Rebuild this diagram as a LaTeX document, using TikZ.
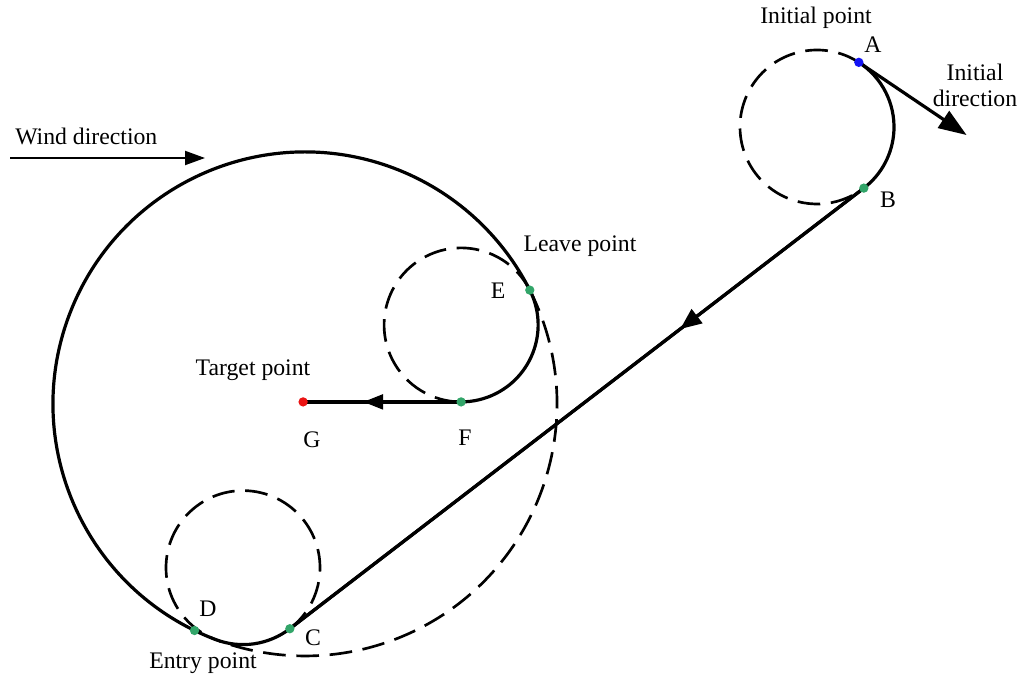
\documentclass[tikz,border=0pt]{standalone}
\usepackage{fontspec}
\setmainfont{Liberation Serif}
\usetikzlibrary{calc,arrows.meta,decorations.markings}
\definecolor{dotgreen}{RGB}{50,165,105}
\definecolor{dotblue}{RGB}{20,20,245}
\definecolor{dotred}{RGB}{235,20,20}
\begin{document}
\begin{tikzpicture}[x=0.75pt,y=0.75pt,
  solidpath/.style={line width=2.4pt},
  dashcirc/.style={line width=2pt, dash pattern=on 17pt off 8pt},
  lbl/.style={font=\fontsize{17.8}{19.5}\selectfont, inner sep=0pt},
  dotnode/.style={circle, fill=#1, inner sep=0pt, minimum size=7pt},
  midarrow/.style 2 args={postaction={decorate},
    decoration={markings, mark=at position #1 with {\arrow{#2}}}}]
\useasboundingbox (0,0) rectangle (1020,679);

% circle centres
\coordinate (Ob) at (305,275);
\coordinate (O1) at (817,552);
\coordinate (O2) at (461.1,354.1);
\coordinate (O3) at (243,111.4);

% path points
\coordinate (A) at ($(O1)+(57.1:77)$);
\coordinate (B) at ($(O1)+(-52.54:77)$);
\coordinate (C) at ($(O3)+(-52.54:77)$);
\coordinate (D) at ($(Ob)+(244:252)$);
\coordinate (E) at ($(O2)+(26.86:77)$);
\coordinate (F) at ($(O2)+(-90:77)$);
\coordinate (G) at ($(F)+(-158,0)$);
\coordinate (Adir) at ($(A)+(-34:130)$);
\coordinate (W1) at (10,521);
\coordinate (W2) at (205,521);

% dashed parts of the circles
\draw[dashcirc] (A) arc[start angle=57.1, end angle=307.46, radius=77];
\draw[dashcirc] (C) arc[start angle=-52.54, end angle=249.25, radius=77];
\draw[dashcirc] (E) arc[start angle=26.86, end angle=270, radius=77];
\draw[dashcirc] (E) arc[start angle=26.86, end angle=-110.75, radius=252];

% solid flight path
\draw[solidpath] (A) arc[start angle=57.1, end angle=-52.54, radius=77]
  -- (C) arc[start angle=-52.54, end angle=-110.75, radius=77]
  arc[start angle=249.25, end angle=26.86, radius=252]
  arc[start angle=26.86, end angle=-90, radius=77] -- (G);
\draw[solidpath, midarrow={0.32}{Triangle[length=16pt,width=13pt]}] (B) -- (C);
\draw[solidpath, midarrow={0.62}{Triangle[length=15pt,width=11pt]}] (F) -- (G);

% initial direction and wind arrows
\draw[solidpath, -{Triangle[length=21pt,width=15pt]}] (A) -- (Adir);
\draw[line width=1.5pt, -{Triangle[length=15pt,width=10.5pt]}] (W1) -- (W2);

% points
\node[dotnode=dotblue] (pA) at (A) {};
\node[dotnode=dotgreen] (pB) at (B) {};
\node[dotnode=dotgreen] (pC) at (C) {};
\node[dotnode=dotgreen] (pD) at (D) {};
\node[dotnode=dotgreen] (pE) at (E) {};
\node[dotnode=dotgreen] (pF) at (F) {};
\node[dotnode=dotred] (pG) at (G) {};

% labels
\node[lbl] (tinit) at (816,661) {Initial point};
\node[lbl] (lA) at (873,634) {A};
\node[lbl, align=center] (tdir) at (975,594) {Initial\\direction};
\node[lbl] (lB) at (888,479) {B};
\node[lbl, anchor=west] (twind) at (15,543) {Wind direction};
\node[lbl] (tleave) at (580,433) {Leave point};
\node[lbl] (lE) at (498,388) {E};
\node[lbl] (ttarget) at (253,309) {Target point};
\node[lbl] (lG) at (312,239) {G};
\node[lbl] (lF) at (465,241) {F};
\node[lbl] (lD) at (208,70) {D};
\node[lbl] (lC) at (313,41) {C};
\node[lbl] (tentry) at (203,16) {Entry point};
\end{tikzpicture}
\end{document}
